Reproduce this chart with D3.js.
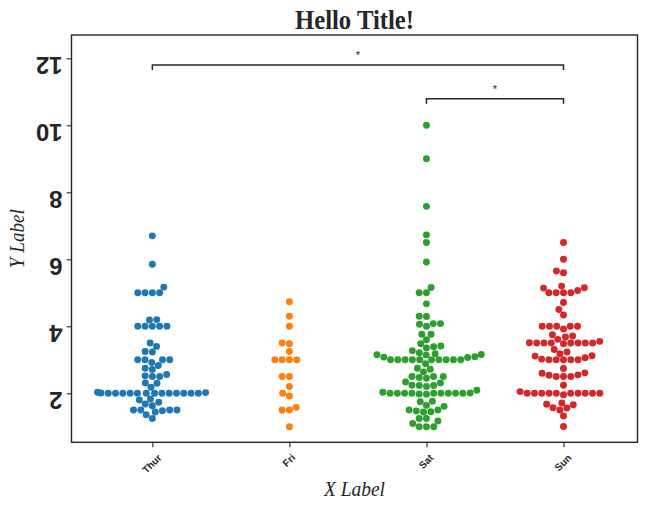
<!DOCTYPE html>
<html><head><meta charset="utf-8">
<script src="https://cdn.jsdelivr.net/npm/d3@7"></script>
<style>body{margin:0;background:#fff}svg{display:block}</style>
</head><body><svg id="c" width="646" height="510"></svg>
<script>
// ---- data ----
const days = ["Thur", "Fri", "Sat", "Sun"];
const thurTips = [4.0,3.0,2.71,3.0,3.4,1.83,5.0,2.03,5.17,2.0,4.0,5.85,3.0,
  1.5,1.8,2.92,2.31,1.68,2.5,2.0,2.52,4.2,1.48,2.0,2.0,2.18,1.5,2.83,1.5,2.0,3.25,1.25,2.0,2.0,2.0,2.75,3.5,6.7,5.0,5.0,2.3,1.5,1.36,1.63,1.73,2.0,
  4.19,2.56,2.02,4.0,1.44,2.0,5.0,2.0,2.0,4.0,2.01,2.0,2.5,4.0,3.23,3.0];
const friTips = [3.0,3.5,1.0,4.3,3.25,4.73,4.0,1.5,3.0,1.5,2.5,3.0,2.2,3.48,1.92,3.0,1.58,2.5,2.0];
const satTips = [3.35,4.08,2.75,2.23,7.58,3.18,2.34,2.0,2.0,4.3,3.0,1.45,2.5,3.0,2.45,3.27,3.6,2.0,3.07,2.31,5.0,2.24,
  3.0,1.5,1.76,6.73,3.21,2.0,1.98,3.76,2.64,3.15,2.47,1.0,2.01,2.09,1.97,3.0,3.14,5.0,2.2,1.25,3.08,
  2.5,3.48,4.08,1.64,4.06,4.29,3.76,4.0,3.0,1.0,
  1.61,2.0,10.0,3.16,
  3.41,3.0,2.03,2.23,2.0,5.16,9.0,2.5,6.5,1.1,3.0,1.5,1.44,3.09,
  3.0,2.72,2.88,2.0,3.0,3.39,1.47,3.0,1.25,1.0,1.17,4.67,5.92,2.0,2.0,1.75];
const sunTips = [1.01,1.66,3.5,3.31,3.61,4.71,2.0,3.12,1.96,3.23,1.71,5.0,1.57,3.0,3.02,3.92,1.67,3.71,3.5,
  2.54,3.06,1.32,5.6,3.0,5.0,6.0,2.05,3.0,2.5,2.6,5.2,1.56,4.34,3.51,
  4.0,2.55,4.0,3.5,5.07,
  2.5,2.0,2.74,2.0,2.0,5.14,5.0,3.75,2.61,2.0,3.5,2.5,2.0,2.0,3.0,3.48,2.24,4.5,
  5.15,3.18,4.0,3.11,2.0,2.0,4.0,3.55,3.68,5.65,3.5,6.5,3.0,5.0,3.5,2.0,3.5,4.0,1.5];
const tipsByDay = [thurTips, friTips, satTips, sunTips];
const yTicks = [2, 4, 6, 8, 10, 12];
const pairs = [[0, 3], [2, 3]];
const pairLevels = [11.65, 10.64];
const pairLabels = ["*", "*"];
const titleText = "Hello Title!", xLabelText = "X Label", yLabelText = "Y Label";

// ---- layout / style ----
const colors = ["#1f77b4", "#ff7f0e", "#2ca02c", "#d62728"];
const ink = "#262626";
const L = 71.5, R = 637.5, T = 35, B = 442.3;
const svg = d3.select("#c");
const x = d3.scaleLinear().domain([-0.59, 3.54]).range([L, R]);
const y = d3.scaleLinear().domain([0.537, 12.696]).range([B, T]);
const rad = 2.5 * 100 / 72;
const tick = 4.86;

// numpy-style quicksort argsort (for candidate ordering)
function npArgsort(v) {
  const n = v.length, idx = Array.from({length: n}, (_, i) => i);
  const sw = (a, b) => { const t = idx[a]; idx[a] = idx[b]; idx[b] = t; };
  let pl = 0, pr = n - 1; const st = [];
  for (;;) {
    while (pr - pl > 15) {
      const pm = pl + ((pr - pl) >> 1);
      if (v[idx[pm]] < v[idx[pl]]) sw(pm, pl);
      if (v[idx[pr]] < v[idx[pm]]) sw(pr, pm);
      if (v[idx[pm]] < v[idx[pl]]) sw(pm, pl);
      const vp = v[idx[pm]];
      let pi = pl, pj = pr - 1;
      sw(pm, pj);
      for (;;) {
        do { ++pi; } while (v[idx[pi]] < vp);
        do { --pj; } while (vp < v[idx[pj]]);
        if (pi >= pj) break;
        sw(pi, pj);
      }
      sw(pi, pr - 1);
      if (pi - pl < pr - pi) { st.push([pi + 1, pr]); pr = pi - 1; }
      else { st.push([pl, pi - 1]); pl = pi + 1; }
    }
    for (let pi = pl + 1; pi <= pr; ++pi) {
      const vi = idx[pi], vp = v[vi];
      let pj = pi, pk = pi - 1;
      while (pj > pl && vp < v[idx[pk]]) { idx[pj--] = idx[pk--]; }
      idx[pj] = vi;
    }
    if (!st.length) break;
    [pl, pr] = st.pop();
  }
  return idx;
}

function swarm(vals, cx, halfW) {
  const pts = vals.map(v => ({v, yd: -y(v)})).sort((a, b) => a.yd - b.yd);
  const out = [];
  const mid = cx;
  out.push({x: cx, yd: pts[0].yd, v: pts[0].v});
  for (let k = 1; k < pts.length; k++) {
    const p = pts[k];
    const nb = [];
    for (let j = out.length - 1; j >= 0; j--) {
      if (p.yd - out[j].yd < 2 * rad) nb.push(out[j]); else break;
    }
    const cands = [cx];
    let leftFirst = true;
    for (const q of nb) {
      const dy = p.yd - q.yd;
      const dx = Math.sqrt(Math.max(4 * rad * rad - dy * dy, 0)) * 1.05;
      if (leftFirst) cands.push(q.x - dx, q.x + dx); else cands.push(q.x + dx, q.x - dx);
      leftFirst = !leftFirst;
    }
    // equal offsets: prefer the left side
    const order = npArgsort(cands.map(c => Math.round(Math.abs(c - mid) * 1e6) / 1e6 - (c < mid - 1e-6 ? 1e-9 : 0)));
    let chosen = cands[0];
    if (nb.length) {
      for (const oi of order) {
        const c = cands[oi];
        let ok = true;
        for (const q of nb) {
          const ddx = q.x - c, ddy = q.yd - p.yd;
          if (ddx * ddx + ddy * ddy < 4 * rad * rad - 1e-9) { ok = false; break; }
        }
        if (ok) { chosen = c; break; }
      }
    }
    out.push({x: chosen, yd: p.yd, v: p.v});
  }
  out.forEach(o => { o.x = Math.max(cx - halfW, Math.min(cx + halfW, o.x)); });
  return out;
}

// points
const bw = x(1) - x(0);
tipsByDay.forEach((vals, i) => {
  const pts = swarm(vals, x(i), 0.4 * bw);
  svg.append("g").selectAll("circle").data(pts).join("circle")
    .attr("cx", d => d.x).attr("cy", d => y(d.v)).attr("r", rad)
    .attr("fill", colors[i]);
});

// brackets
const bh = 0.15;
pairs.forEach((p, k) => {
  const lv = pairLevels[k];
  const path = d3.path();
  path.moveTo(x(p[0]), y(lv)); path.lineTo(x(p[0]), y(lv + bh));
  path.lineTo(x(p[1]), y(lv + bh)); path.lineTo(x(p[1]), y(lv));
  svg.append("path").attr("d", path.toString()).attr("fill", "none")
    .attr("stroke", ink).attr("stroke-width", 1.5);
  svg.append("text").attr("x", (x(p[0]) + x(p[1])) / 2).attr("y", y(lv + bh) - 6)
    .attr("text-anchor", "middle").attr("font-family", "Liberation Sans").attr("font-size", 11)
    .attr("fill", ink).text(pairLabels[k]);
});

// x axis
const gx = svg.append("g").attr("transform", `translate(0,${B})`)
  .call(d3.axisBottom(x).tickValues(d3.range(days.length)).tickFormat(i => days[i]).tickSize(tick).tickPadding(tick));
gx.select(".domain").remove();
gx.selectAll(".tick line").attr("stroke", ink).attr("stroke-width", 1.1);
gx.selectAll(".tick text").each(function () {
  const t = d3.select(this);
  t.attr("font-family", "Liberation Sans").attr("font-weight", "bold").attr("font-size", 10).attr("fill", ink);
  const w = this.getComputedTextLength(), h = 10 * 1.1;
  const c = (w + h) / (2 * Math.SQRT2);
  t.attr("y", 0).attr("dy", null).attr("text-anchor", "middle").attr("dominant-baseline", "central")
    .attr("transform", `translate(-1,${2 * tick + c}) rotate(-45)`);
});

// y axis
const gy = svg.append("g").attr("transform", `translate(${L},0)`)
  .call(d3.axisLeft(y).tickValues(yTicks).tickSize(tick).tickPadding(tick));
gy.select(".domain").remove();
gy.selectAll(".tick line").attr("stroke", ink).attr("stroke-width", 1.1);
gy.selectAll(".tick text").attr("font-family", "Liberation Sans").attr("font-weight", "bold")
  .attr("font-size", 24).attr("fill", ink)
  .attr("x", -9).attr("y", -1.5).attr("dy", null).attr("text-anchor", "start")
  .attr("transform", "rotate(180,-9,-1.5)");

// frame
svg.append("rect").attr("x", L).attr("y", T).attr("width", R - L).attr("height", B - T)
  .attr("fill", "none").attr("stroke", ink).attr("stroke-width", 1.4);

// title & labels
svg.append("text").attr("x", (L + R) / 2).attr("y", 28.5).attr("text-anchor", "middle")
  .attr("font-family", "Liberation Serif").attr("font-weight", "bold").attr("font-size", 27)
  .attr("textLength", 119).attr("lengthAdjust", "spacingAndGlyphs").attr("fill", ink).text(titleText);
svg.append("text").attr("x", (L + R) / 2).attr("y", 496).attr("text-anchor", "middle")
  .attr("font-family", "Liberation Serif").attr("font-style", "italic").attr("font-size", 21)
  .attr("textLength", 61).attr("lengthAdjust", "spacingAndGlyphs").attr("fill", ink).text(xLabelText);
svg.append("text").attr("transform", `translate(24,${(T + B) / 2}) rotate(-90)`).attr("text-anchor", "middle")
  .attr("font-family", "Liberation Serif").attr("font-style", "italic").attr("font-size", 21)
  .attr("textLength", 59).attr("lengthAdjust", "spacingAndGlyphs").attr("fill", ink).text(yLabelText);
</script></body></html>
